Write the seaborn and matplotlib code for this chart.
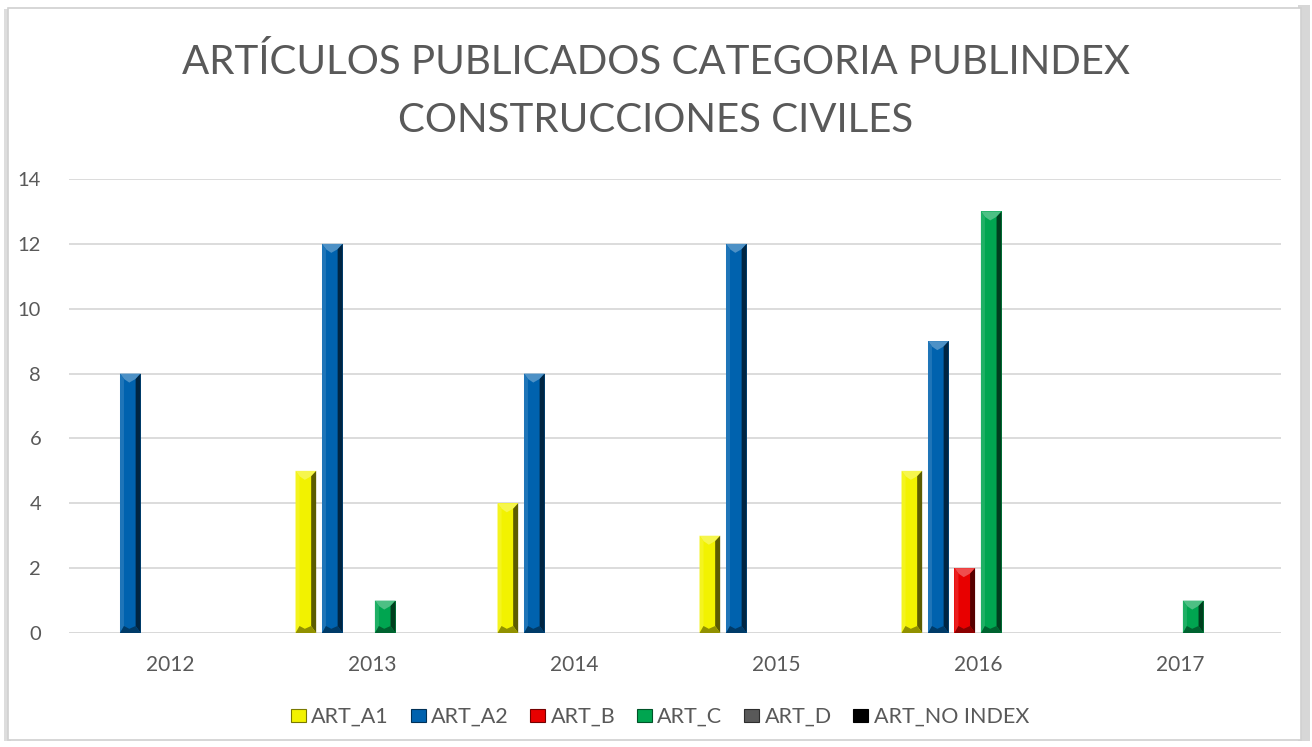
import matplotlib
matplotlib.use("Agg")
import matplotlib.pyplot as plt
import matplotlib.patches as mpatches
import matplotlib.colors as mcolors
import seaborn as sns
import pandas as pd
import numpy as np

# ── data ───────────────────────────────────────
years = ["2012", "2013", "2014", "2015", "2016", "2017"]
series = ["ART_A1", "ART_A2", "ART_B", "ART_C", "ART_D", "ART_NO INDEX"]
art_a1 = [0, 5, 4, 3, 5, 0]
art_a2 = [8, 12, 8, 12, 9, 0]
art_b = [0, 0, 0, 0, 2, 0]
art_c = [0, 1, 0, 0, 13, 1]
art_d = [0, 0, 0, 0, 0, 0]
art_no_index = [0, 0, 0, 0, 0, 0]
y_ticks = [0, 2, 4, 6, 8, 10, 12, 14]

COLORS = ["#F2F200", "#0062AE", "#E80000", "#00A550", "#595959", "#000000"]
TEXT = "#595959"
GRID = "#D9D9D9"

values = [art_a1, art_a2, art_b, art_c, art_d, art_no_index]
df = pd.DataFrame({
    "year": np.repeat([years], len(series), axis=0).ravel(),
    "serie": np.repeat(series, len(years)),
    "value": np.concatenate(values),
})

sns.set_theme(style="white")
plt.rcParams["font.family"] = ["Lato", "DejaVu Sans"]

W, H = 1312, 747
fig = plt.figure(figsize=(W / 100, H / 100), dpi=100, facecolor="white")

# frame with soft shadow (drawn below the axes)
fig.add_artist(mpatches.Rectangle((1298 / W, 6 / H), 12 / W, 736 / H,
                                  transform=fig.transFigure, facecolor="#BDBDBD",
                                  edgecolor="none", alpha=0.6, zorder=-3))
fig.add_artist(mpatches.Rectangle((4 / W, 6 / H), 7 / W, 732 / H,
                                  transform=fig.transFigure, facecolor="#CFCFCF",
                                  edgecolor="none", alpha=0.7, zorder=-3))
fig.add_artist(mpatches.Rectangle((8 / W, 7 / H), 1293 / W, 732 / H,
                                  transform=fig.transFigure, facecolor="white",
                                  edgecolor="#D0D0D0", lw=1.2, zorder=-2))

left, right = 69 / W, 1281 / W
bottom, top = (H - 633) / H, (H - 179) / H
ax = fig.add_axes([left, bottom, right - left, top - bottom])
ax.set_facecolor("none")

sns.barplot(data=df, x="year", y="value", hue="serie", hue_order=series,
            order=years, palette=COLORS, width=0.786, gap=0.22,
            linewidth=0, saturation=1, legend=False, ax=ax, zorder=3)

ax.set_xlim(-0.5, 5.5)
ax.set_ylim(0, 14)
ax.set_yticks(y_ticks)
ax.yaxis.grid(True, color=GRID, lw=1.3)
ax.set_axisbelow(True)
for s in ax.spines.values():
    s.set_visible(False)
ax.set_xlabel("")
ax.set_ylabel("")
ax.tick_params(axis="y", labelsize=14.5, labelcolor=TEXT, length=0, pad=20)
ax.tick_params(axis="x", labelsize=15, labelcolor=TEXT, length=0, pad=16)


# bevel effect on each bar
px_x = 6.0 / ((right - left) * W)
px_y = 14.0 / ((top - bottom) * H)


def shade(c, f):
    r = np.array(mcolors.to_rgb(c))
    return tuple(r + (1 - r) * f) if f > 0 else tuple(r * (1 + f))


for cont, col in zip(ax.containers, COLORS):
    for p in cont.patches:
        h = p.get_height()
        if h <= 0:
            continue
        x0, w = p.get_x(), p.get_width()
        x1 = x0 + w
        xm = x0 + w * 0.45
        a, b = 4 * px_x, 5 * px_x
        d, c = 9 * px_y, 7 * px_y
        polys = [
            ([(x0, h), (x1, h), (x1 - b, h - 0.6 * d), (xm, h - d), (x0 + a, h - 0.6 * d)],
             shade(col, 0.3)),
            ([(x0, 0), (x0, h), (x0 + a, h - 0.6 * d), (x0 + a, c)], shade(col, 0.12)),
            ([(x1, 0), (x1, h), (x1 - b, h - 0.6 * d), (x1 - b, c)], shade(col, -0.62)),
            ([(x0, 0), (x1, 0), (x1 - b, c), (xm, 0.6 * c), (x0 + a, c)], shade(col, -0.4)),
        ]
        for pts, fc in polys:
            ax.add_patch(mpatches.Polygon(pts, closed=True, facecolor=fc,
                                          edgecolor="none", zorder=4))

ax.axhline(0, color=GRID, lw=1.3, zorder=2)

fig.text(0.5, (H - 62) / H, "ARTÍCULOS PUBLICADOS CATEGORIA PUBLINDEX",
         ha="center", va="center", fontsize=29, color=TEXT)
fig.text(0.5, (H - 120) / H, "CONSTRUCCIONES CIVILES",
         ha="center", va="center", fontsize=29, color=TEXT)

handles = [mpatches.Patch(facecolor=c, edgecolor=shade(c, -0.5), lw=0.8, label=s)
           for c, s in zip(COLORS, series)]
fig.legend(handles=handles, loc="center", bbox_to_anchor=(0.503, (H - 717) / H),
           ncol=6, frameon=False, fontsize=15.5, labelcolor=TEXT,
           handlelength=0.7, handleheight=0.6, handletextpad=0.25,
           columnspacing=1.0)

fig.savefig("out.png", dpi=100, facecolor="white")
